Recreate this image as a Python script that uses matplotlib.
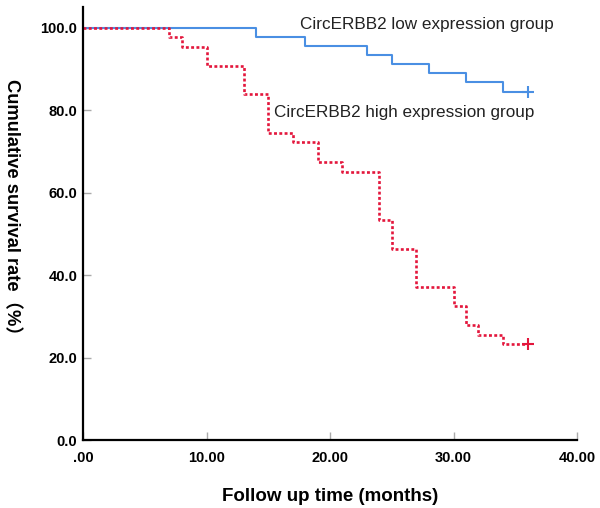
import matplotlib
matplotlib.use('Agg')
import matplotlib.pyplot as plt

# Kaplan-Meier step data
low_t = [0, 14, 18, 23, 25, 28, 31, 34, 36]
low_s = [100, 97.8, 95.6, 93.3, 91.1, 88.9, 86.7, 84.4, 84.4]

high_t = [0, 7, 8, 10, 13, 15, 17, 19, 21, 24, 25, 27, 30, 31, 32, 34, 36]
high_s = [100, 97.7, 95.4, 90.8, 83.9, 74.4, 72.2, 67.4, 65.0, 53.4, 46.4,
          37.2, 32.5, 27.9, 25.5, 23.2, 23.2]

x_ticks = [0, 10, 20, 30, 40]
x_tick_labels = ['.00', '10.00', '20.00', '30.00', '40.00']
y_ticks = [0, 20, 40, 60, 80, 100]
y_tick_labels = ['0.0', '20.0', '40.0', '60.0', '80.0', '100.0']

low_label = 'CircERBB2 low expression group'
high_label = 'CircERBB2 high expression group'

plt.rcParams['font.family'] = ['Liberation Sans', 'Noto Sans CJK SC', 'DejaVu Sans']

fig = plt.figure(figsize=(6, 5.08), dpi=100)
ax = fig.add_axes([83 / 600, 1 - 440 / 508, 494 / 600, 433 / 508])

blue = '#4a8fe3'
red = '#e3163c'

ax.step(low_t, low_s, where='post', color=blue, lw=1.5, solid_capstyle='butt')
ax.plot(low_t[-1], low_s[-1], marker='+', color=blue, ms=9, mew=1.5)

ax.step(high_t, high_s, where='post', color=red, lw=1.9, linestyle=(0, (1.1, 0.9)))
ax.plot(high_t[-1], high_s[-1], marker='+', color=red, ms=9, mew=1.5)

ax.text(17.6, 100.7, low_label, fontsize=12.3, va='center', ha='left', color='#222222')
ax.text(15.5, 79.4, high_label, fontsize=12.3, va='center', ha='left', color='#222222')

ax.set_xlim(0, 40)
ax.set_ylim(0, 105)
ax.set_xticks(x_ticks)
ax.set_xticklabels(x_tick_labels, fontweight='bold', fontsize=10.5)
ax.set_yticks(y_ticks)
ax.set_yticklabels(y_tick_labels, fontweight='bold', fontsize=10.5)
ax.tick_params(axis='both', direction='in', length=6, width=1, color='#aaaaaa')
ax.tick_params(axis='x', pad=8)
ax.tick_params(axis='y', pad=4)

for s in ['top', 'right']:
    ax.spines[s].set_visible(False)
for s in ['left', 'bottom']:
    ax.spines[s].set_linewidth(1.6)
    ax.spines[s].set_color('black')

ax.set_xlabel('Follow up time (months)', fontsize=13.5, fontweight='bold')
ax.set_ylabel('Cumulative survival rate（%）', fontsize=13.2, fontweight='bold', rotation=-90)
ax.xaxis.set_label_coords(0.5, -0.11)
ax.yaxis.set_label_coords(-0.163, 0.527)

fig.savefig('out.png', dpi=100)
